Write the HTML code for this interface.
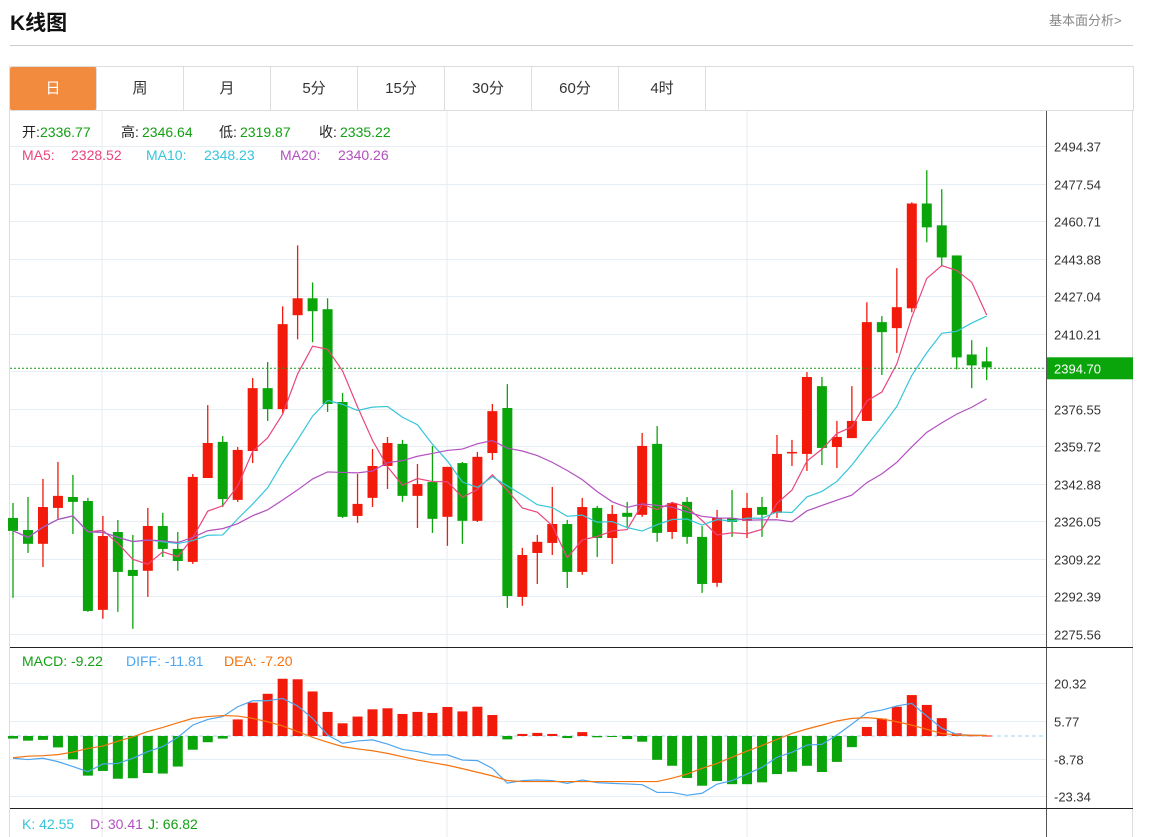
<!DOCTYPE html>
<html><head><meta charset="utf-8">
<style>
body{margin:0;width:1157px;height:837px;overflow:hidden;background:#fff;font-family:"Liberation Sans","Noto Sans CJK SC",sans-serif;position:relative}
#title{position:absolute;left:10px;top:7px;font-size:21px;font-weight:bold;color:#111}
#more{position:absolute;left:1049px;top:10px;font-size:13px;color:#888}
#hr{position:absolute;left:10px;top:45px;width:1123px;height:1px;background:#ccc}
#tabs{position:absolute;left:9px;top:66px;width:1123px;height:43px;border:1px solid #ddd;border-bottom:1px solid #e3e3e3;display:flex}
.tab{width:87px;height:43px;line-height:43px;text-align:center;font-size:15px;color:#333;border-right:1px solid #ddd;box-sizing:border-box}
.tab.on{background:#f38b3f;color:#fff;border-radius:2px}
svg{position:absolute;left:0;top:0}
</style></head><body>
<div id="title">K线图</div>
<div id="more">基本面分析&gt;</div>
<div id="hr"></div>
<div id="tabs">
<div class="tab on">日</div>
<div class="tab">周</div>
<div class="tab">月</div>
<div class="tab">5分</div>
<div class="tab">15分</div>
<div class="tab">30分</div>
<div class="tab">60分</div>
<div class="tab">4时</div>
</div>
<svg id="chart" width="1157" height="837" font-family="Liberation Sans, Noto Sans CJK SC, sans-serif"></svg>
<script>
const opens=[2327.6,2322.2,2316.0,2332.1,2337.0,2335.2,2286.4,2321.3,2304.3,2303.9,2324.0,2313.7,2307.9,2345.5,2361.7,2335.7,2357.6,2385.8,2376.4,2418.5,2426.1,2421.2,2379.6,2328.5,2336.6,2350.9,2360.8,2337.5,2343.7,2328.1,2352.2,2326.3,2356.7,2376.9,2292.2,2311.9,2316.4,2324.9,2303.4,2332.1,2318.6,2329.9,2329.0,2360.8,2321.3,2334.8,2319.1,2298.5,2327.6,2326.3,2332.5,2329.9,2356.7,2356.3,2386.7,2359.4,2363.4,2371.1,2415.4,2412.7,2421.6,2468.6,2458.8,2445.3,2400.9,2397.8];
const highs=[2334.3,2337.0,2345.1,2352.7,2346.9,2336.6,2328.5,2326.7,2320.0,2332.1,2329.9,2321.3,2347.3,2378.2,2364.3,2359.4,2390.3,2397.5,2422.5,2449.8,2433.2,2426.1,2383.6,2347.3,2358.5,2363.9,2362.6,2351.8,2359.9,2350.5,2352.7,2357.2,2378.7,2387.6,2314.2,2320.0,2341.5,2326.7,2336.6,2333.0,2333.4,2334.8,2365.7,2368.8,2334.8,2337.0,2324.0,2331.2,2340.1,2338.8,2337.0,2364.8,2362.6,2393.0,2390.8,2371.1,2386.7,2424.3,2418.1,2439.6,2469.1,2483.5,2475.0,2445.3,2407.3,2404.2];
const lows=[2291.8,2311.9,2305.6,2327.2,2320.4,2285.5,2282.4,2285.5,2277.9,2292.2,2310.1,2303.9,2307.0,2345.5,2332.5,2334.8,2352.2,2371.1,2374.6,2407.7,2406.4,2375.1,2327.6,2325.4,2332.5,2340.6,2334.8,2323.1,2320.9,2315.1,2316.0,2325.8,2353.6,2287.3,2288.2,2298.0,2311.0,2296.2,2302.1,2310.1,2307.0,2323.6,2328.1,2316.9,2318.2,2316.0,2294.0,2296.7,2319.1,2318.6,2319.1,2327.6,2350.9,2348.7,2351.3,2350.0,2363.4,2371.1,2391.7,2401.6,2419.8,2451.2,2440.4,2394.2,2385.8,2389.4];
const closes=[2321.8,2316.0,2332.5,2337.5,2334.8,2285.9,2319.5,2303.4,2301.6,2324.0,2313.7,2308.3,2346.0,2361.2,2336.1,2358.1,2385.8,2376.4,2414.5,2426.1,2420.3,2378.7,2328.1,2333.9,2350.9,2361.2,2337.5,2342.8,2327.2,2350.5,2326.3,2355.0,2375.5,2292.6,2311.0,2316.9,2324.9,2303.4,2332.5,2318.6,2329.4,2328.1,2359.9,2320.9,2334.3,2319.1,2298.0,2327.6,2325.8,2332.1,2329.0,2356.3,2357.2,2390.8,2359.0,2363.9,2371.1,2415.4,2410.9,2422.1,2468.6,2457.9,2444.4,2399.6,2396.0,2395.1];
const macdBars=[-1.0,-1.8,-1.5,-4.4,-9.0,-15.3,-13.5,-16.5,-16.3,-14.3,-14.5,-11.8,-5.3,-2.4,-1.0,6.4,12.9,16.3,22.1,21.9,17.2,9.3,4.9,7.5,10.3,10.7,8.5,9.3,8.9,11.2,9.5,11.3,8.1,-1.3,0.8,1.2,0.8,-0.8,1.5,-0.5,-0.3,-1.2,-2.2,-9.2,-11.5,-16.2,-19.2,-17.4,-18.6,-18.6,-17.9,-14.7,-13.8,-11.5,-13.9,-10.0,-4.3,3.5,6.7,11.3,15.8,12.0,6.9,1.0,0.3,0.2];
const diffs=[-8.6,-9.1,-8.6,-9.9,-11.8,-13.8,-10.8,-10.6,-8.6,-6.0,-4.1,-0.5,4.2,6.4,7.5,11.3,13.6,13.6,14.5,11.6,6.8,0.4,-2.8,-1.9,-1.5,-3.1,-5.2,-6.0,-7.3,-7.3,-9.3,-9.5,-12.5,-18.2,-17.2,-17.0,-17.2,-18.3,-17.0,-18.0,-18.3,-18.5,-18.8,-21.8,-21.8,-22.9,-22.1,-18.6,-17.2,-14.7,-12.1,-8.2,-6.3,-3.5,-3.2,0.4,4.6,9.0,10.0,11.6,12.6,7.7,3.0,0.6,0.3,0.2];
const deas=[-8.4,-7.8,-7.6,-7.2,-6.2,-4.8,-3.9,-2.0,-0.3,1.7,3.3,5.1,6.8,7.5,7.9,7.7,6.8,5.5,3.9,1.7,-0.5,-2.4,-4.1,-5.0,-5.7,-6.7,-8.0,-9.3,-10.3,-11.3,-12.6,-14.0,-15.4,-17.2,-17.6,-17.6,-17.6,-17.6,-17.6,-17.6,-17.6,-17.6,-17.6,-17.6,-16.3,-14.7,-12.5,-10.6,-8.2,-5.8,-3.7,-1.3,1.0,2.7,4.2,5.8,6.8,7.1,6.6,5.5,4.2,2.6,1.0,0.4,0.3,0.2];
const priceTicks=[2494.37,2477.54,2460.71,2443.88,2427.04,2410.21,2393.38,2376.55,2359.72,2342.88,2326.05,2309.22,2292.39,2275.56];
const macdTicks=[20.32,5.77,-8.78,-23.34];
const lastPrice=2394.70;

const NS='http://www.w3.org/2000/svg';
const svg=document.getElementById('chart');
function mk(tag,attrs,parent){const e=document.createElementNS(NS,tag);for(const k in attrs)e.setAttribute(k,attrs[k]);(parent||svg).appendChild(e);return e;}
const xAt=i=>13+i*14.98;
const yP=v=>146+(2494.37-v)*2.2303;
const yM=v=>736-v*2.59;
const RED='#f21a0a',GREEN='#0aa50a';

let f=mk('rect',{x:9.5,y:110.5,width:1123,height:727,fill:'none',stroke:'#ddd'});


[102,447,747].forEach(x=>{const l=mk('line',{x1:x,x2:x,y1:111,y2:837,stroke:'#e6edf3'});

});
priceTicks.forEach(t=>{const y=Math.round(yP(t))+0.5;
const l=mk('line',{x1:10,x2:1046,y1:y,y2:y,stroke:'#e6edf3'});


if(Math.abs(t-lastPrice)>3){const tx=mk('text',{x:1054,y:y+5,'font-size':13,fill:'#333'});tx.textContent=t.toFixed(2);

}});
macdTicks.forEach(t=>{const y=Math.round(yM(t))+0.5;
const l=mk('line',{x1:10,x2:1046,y1:y,y2:y,stroke:'#e6edf3'});


const tx=mk('text',{x:1054,y:y+5,'font-size':13,fill:'#333'});tx.textContent=t.toFixed(2);

});
let a=mk('line',{x1:1046.5,x2:1046.5,y1:111,y2:837,stroke:'#555'});


[647.5,808.5].forEach(y=>{const l=mk('line',{x1:10,x2:1133,y1:y,y2:y,stroke:'#222'});

});

for(let i=0;i<opens.length;i++){
 const up=closes[i]>=opens[i],c=up?RED:GREEN,x=xAt(i);
 const g=mk('g',{});
 
 
 mk('line',{x1:x,x2:x,y1:yP(highs[i]),y2:yP(lows[i]),stroke:c,'stroke-width':1.3},g);
 const t=yP(Math.max(opens[i],closes[i])),b=yP(Math.min(opens[i],closes[i]));
 mk('rect',{x:x-5,y:t,width:10,height:Math.max(1.5,b-t),fill:c},g);
}
function ma(n){return closes.map((_,i)=>{const s=closes.slice(Math.max(0,i-n+1),i+1);return s.reduce((a,b)=>a+b,0)/s.length;});}
[[5,'#e8467c','ma5-line'],[10,'#35c5d9','ma10-line'],[20,'#b350c0','ma20-line']].forEach(([n,c,nm])=>{
 const m=ma(n);const p=mk('polyline',{points:m.map((v,i)=>xAt(i)+','+yP(v)).join(' '),fill:'none',stroke:c,'stroke-width':1.2});
 
 });
const ly=yP(lastPrice);
let dl=mk('line',{x1:10,x2:1046,y1:ly,y2:ly,stroke:'#1a9a1a','stroke-dasharray':'2,2'});


let lb=mk('rect',{x:1047,y:ly-11,width:86,height:22,fill:'#0aa50a'});


let lt=mk('text',{x:1054,y:ly+5,'font-size':13,fill:'#fff'});lt.textContent=lastPrice.toFixed(2);



let z=mk('line',{x1:10,x2:1046,y1:yM(0),y2:yM(0),stroke:'#9fd3f0','stroke-dasharray':'4,3'});


macdBars.forEach((v,i)=>{const y0=yM(0),y1=yM(v);
 const r=mk('rect',{x:xAt(i)-5,y:Math.min(y0,y1),width:10,height:Math.max(1,Math.abs(y1-y0)),fill:v>=0?RED:GREEN});
 
 });
let pd=mk('polyline',{points:diffs.map((v,i)=>xAt(i)+','+yM(v)).join(' '),fill:'none',stroke:'#4da6f0','stroke-width':1.2});


let pe=mk('polyline',{points:deas.map((v,i)=>xAt(i)+','+yM(v)).join(' '),fill:'none',stroke:'#f5730f','stroke-width':1.2});



function legend(y,items,name){const g=mk('g',{'font-size':14});
 
 
 items.forEach(([s,c,x])=>{const t=mk('text',{x:x,y:y,fill:c},g);t.textContent=s;});}
legend(137,[['开:','#222',22],['2336.77','#13a013',40],['高:','#222',121],['2346.64','#13a013',142],['低:','#222',219],['2319.87','#13a013',240],['收:','#222',319],['2335.22','#13a013',340]],'ohlc-legend');
legend(160,[['MA5:','#e8467c',22],['2328.52','#e8467c',71],['MA10:','#35c5d9',146],['2348.23','#35c5d9',204],['MA20:','#b350c0',280],['2340.26','#b350c0',338]],'ma-legend');
legend(666,[['MACD: -9.22','#13a013',22],['DIFF: -11.81','#4da6f0',126],['DEA: -7.20','#f5730f',224]],'macd-legend');
legend(829,[['K: 42.55','#35c5d9',22],['D: 30.41','#b350c0',90],['J: 66.82','#13a013',148]],'kdj-legend');
</script>
</body></html>
